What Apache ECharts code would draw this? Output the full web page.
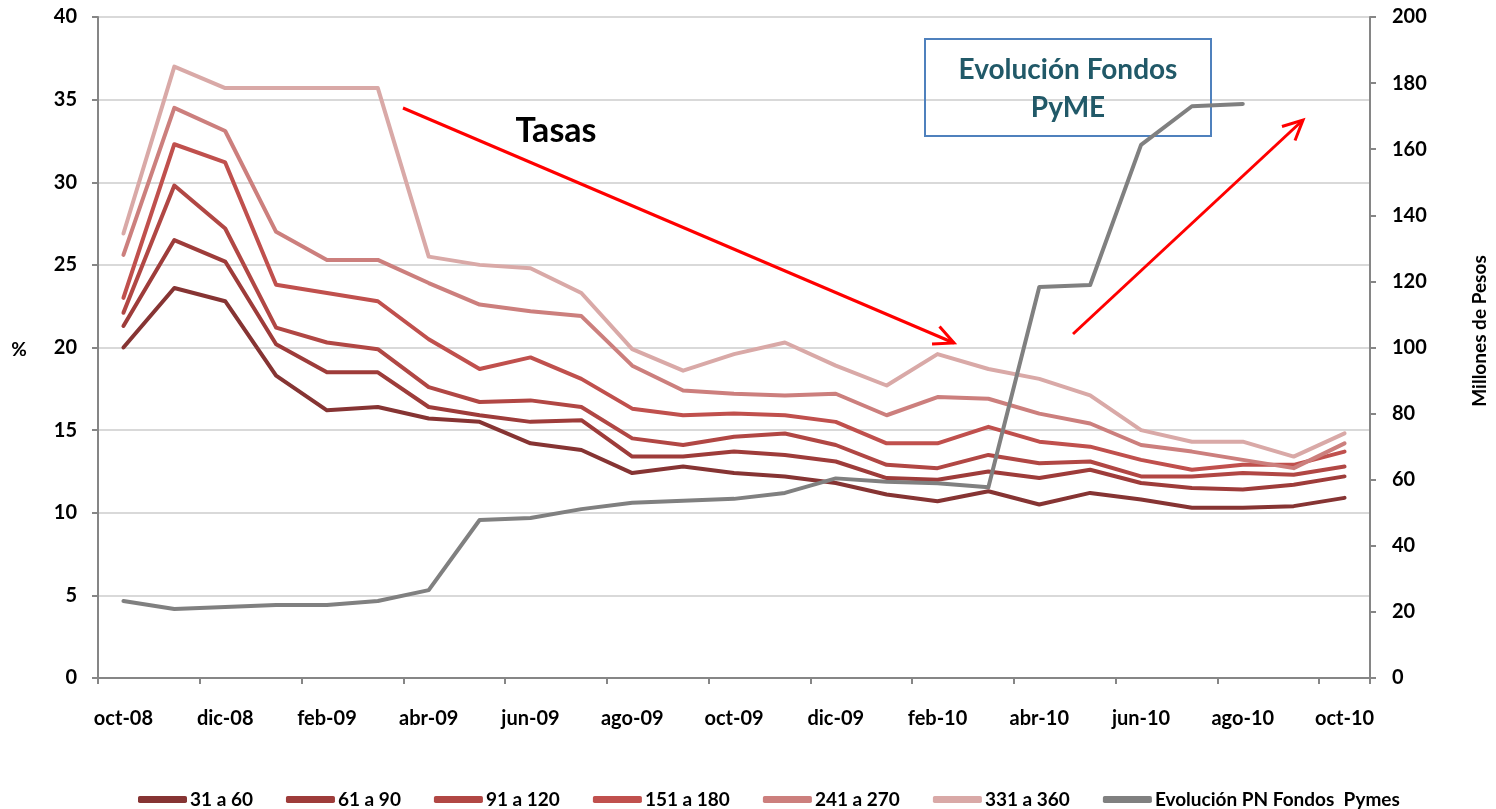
<!DOCTYPE html>
<html>
<head>
<meta charset="utf-8">
<title>Tasas y Evolución Fondos PyME</title>
<script src="https://cdn.jsdelivr.net/npm/echarts@6/dist/echarts.min.js"></script>
<style>
  html, body { margin: 0; padding: 0; background: #fff; }
  #chart { width: 1496px; height: 809px; }
</style>
</head>
<body>
<div id="chart"></div>
<script>
  // meses (todos), se muestran uno sí y uno no en el eje
  var meses = ['oct-08', 'nov-08', 'dic-08', 'ene-09', 'feb-09', 'mar-09', 'abr-09', 'may-09',
    'jun-09', 'jul-09', 'ago-09', 'sep-09', 'oct-09', 'nov-09', 'dic-09', 'ene-10', 'feb-10',
    'mar-10', 'abr-10', 'may-10', 'jun-10', 'jul-10', 'ago-10', 'sep-10', 'oct-10'];

  // tasas (%)
  var tasa31a60 = [20.0, 23.6, 22.8, 18.3, 16.2, 16.4, 15.7, 15.5, 14.2, 13.8, 12.4, 12.8, 12.4,
    12.2, 11.8, 11.1, 10.7, 11.3, 10.5, 11.2, 10.8, 10.3, 10.3, 10.4, 10.9];
  var tasa61a90 = [21.3, 26.5, 25.2, 20.2, 18.5, 18.5, 16.4, 15.9, 15.5, 15.6, 13.4, 13.4, 13.7,
    13.5, 13.1, 12.1, 12.0, 12.5, 12.1, 12.6, 11.8, 11.5, 11.4, 11.7, 12.2];
  var tasa91a120 = [22.1, 29.8, 27.2, 21.2, 20.3, 19.9, 17.6, 16.7, 16.8, 16.4, 14.5, 14.1, 14.6,
    14.8, 14.1, 12.9, 12.7, 13.5, 13.0, 13.1, 12.2, 12.2, 12.4, 12.3, 12.8];
  var tasa151a180 = [23.0, 32.3, 31.2, 23.8, 23.3, 22.8, 20.5, 18.7, 19.4, 18.1, 16.3, 15.9, 16.0,
    15.9, 15.5, 14.2, 14.2, 15.2, 14.3, 14.0, 13.2, 12.6, 12.9, 12.9, 13.7];
  var tasa241a270 = [25.6, 34.5, 33.1, 27.0, 25.3, 25.3, 23.9, 22.6, 22.2, 21.9, 18.9, 17.4, 17.2,
    17.1, 17.2, 15.9, 17.0, 16.9, 16.0, 15.4, 14.1, 13.7, 13.2, 12.7, 14.2];
  var tasa331a360 = [26.9, 37.0, 35.7, 35.7, 35.7, 35.7, 25.5, 25.0, 24.8, 23.3, 19.9, 18.6, 19.6,
    20.3, 18.9, 17.7, 19.6, 18.7, 18.1, 17.1, 15.0, 14.3, 14.3, 13.4, 14.8];

  // PN fondos pymes (millones de pesos)
  var pnFondos = [23.3, 20.9, 21.5, 22.1, 22.1, 23.3, 26.6, 47.8, 48.4, 51.1, 53.0, 53.6, 54.2,
    56.0, 60.4, 59.4, 58.9, 57.7, 118.3, 118.9, 161.3, 173.0, 173.7, null, null];

  var nombres = ['31 a 60', '61 a 90', '91 a 120', '151 a 180', '241 a 270', '331 a 360', 'Evolución PN Fondos  Pymes'];
  var colores = ['#863433', '#9E3C3A', '#B14744', '#C0504D', '#CC7F7D', '#D9A9A7', '#808080'];
  var tasas = [tasa31a60, tasa61a90, tasa91a120, tasa151a180, tasa241a270, tasa331a360];

  var fuente = 'Lato, "Open Sans", sans-serif';

  var myChart = echarts.init(document.getElementById('chart'));

  var series = tasas.map(function (d, i) {
    return {
      name: nombres[i],
      type: 'line',
      data: d,
      showSymbol: false,
      lineStyle: { width: 4, color: colores[i], cap: 'round', join: 'round' },
      itemStyle: { color: colores[i] },
      z: 3 + i
    };
  });
  series.push({
    name: nombres[6],
    type: 'line',
    yAxisIndex: 1,
    data: pnFondos,
    showSymbol: false,
    connectNulls: false,
    lineStyle: { width: 4, color: colores[6], cap: 'round', join: 'round' },
    itemStyle: { color: colores[6] },
    z: 10
  });

  // flechas (decorativas)
  function flecha(x1, y1, x2, y2) {
    var ang = Math.atan2(y2 - y1, x2 - x1);
    var l = 22, a = 0.45;
    return [
      { type: 'line', shape: { x1: x1, y1: y1, x2: x2, y2: y2 },
        style: { stroke: '#FF0000', lineWidth: 3 }, z: 100 },
      { type: 'polyline', shape: { points: [
          [x2 - l * Math.cos(ang - a), y2 - l * Math.sin(ang - a)],
          [x2, y2],
          [x2 - l * Math.cos(ang + a), y2 - l * Math.sin(ang + a)]
        ] },
        style: { stroke: '#FF0000', lineWidth: 3, fill: null }, z: 100 }
    ];
  }

  var graficos = [
    { type: 'text', x: 556, y: 131,
      style: { text: 'Tasas', font: 'bold 34px ' + fuente, fill: '#000',
        align: 'center', verticalAlign: 'middle' }, z: 100 },
    { type: 'rect', shape: { x: 925, y: 39, width: 286, height: 97 },
      style: { fill: null, stroke: '#4F81BD', lineWidth: 2 }, z: 1 },
    { type: 'text', x: 1068, y: 89,
      style: { text: 'Evolución Fondos\nPyME', font: 'bold 28px ' + fuente, fill: '#215968',
        align: 'center', verticalAlign: 'middle', lineHeight: 38 }, z: 1 },
    // nombres de los ejes
    { type: 'text', x: 19, y: 350,
      style: { text: '%', font: 'bold 19px ' + fuente, fill: '#000',
        align: 'center', verticalAlign: 'middle' }, z: 100 },
    { type: 'text', x: 1480, y: 331, rotation: Math.PI / 2,
      style: { text: 'Millones de Pesos', font: 'bold 19px ' + fuente, fill: '#000',
        align: 'center', verticalAlign: 'middle' }, z: 100 }
  ].concat(flecha(403, 108, 954, 343), flecha(1073, 334, 1303, 120));

  var option = {
    animation: false,
    backgroundColor: '#fff',
    textStyle: { fontFamily: fuente },
    color: colores,
    grid: { left: 98, right: 126, top: 17, bottom: 131, containLabel: false },
    legend: {
      top: 785,
      left: 133,
      icon: 'roundRect',
      itemWidth: 49,
      itemHeight: 7,
      itemGap: 33,
      textStyle: { fontFamily: fuente, fontWeight: 'bold', fontSize: 19, color: '#000', padding: [0, 0, 0, -2] },
      data: nombres
    },
    xAxis: {
      type: 'category',
      data: meses,
      boundaryGap: true,
      axisLine: { lineStyle: { color: '#868686', width: 2 } },
      axisTick: { show: true, interval: 1, length: 6, lineStyle: { color: '#868686', width: 2 } },
      axisLabel: { interval: 1, margin: 31, color: '#000', fontWeight: 'bold', fontSize: 20 },
      splitLine: { show: false }
    },
    yAxis: [{
      type: 'value',
      min: 0,
      max: 40,
      interval: 5,
      axisLine: { show: true, lineStyle: { color: '#868686', width: 2 } },
      axisTick: { show: true, length: 6, lineStyle: { color: '#868686', width: 2 } },
      axisLabel: { margin: 21, color: '#000', fontWeight: 'bold', fontSize: 20 },
      splitLine: { lineStyle: { color: '#D9D9D9', width: 2 } }
    }, {
      type: 'value',
      min: 0,
      max: 200,
      interval: 20,
      position: 'right',
      axisLine: { show: true, lineStyle: { color: '#868686', width: 2 } },
      axisTick: { show: true, length: 6, lineStyle: { color: '#868686', width: 2 } },
      axisLabel: { margin: 22, color: '#000', fontWeight: 'bold', fontSize: 20 },
      splitLine: { show: false }
    }],
    series: series,
    graphic: graficos
  };

  myChart.setOption(option);
</script>
</body>
</html>
